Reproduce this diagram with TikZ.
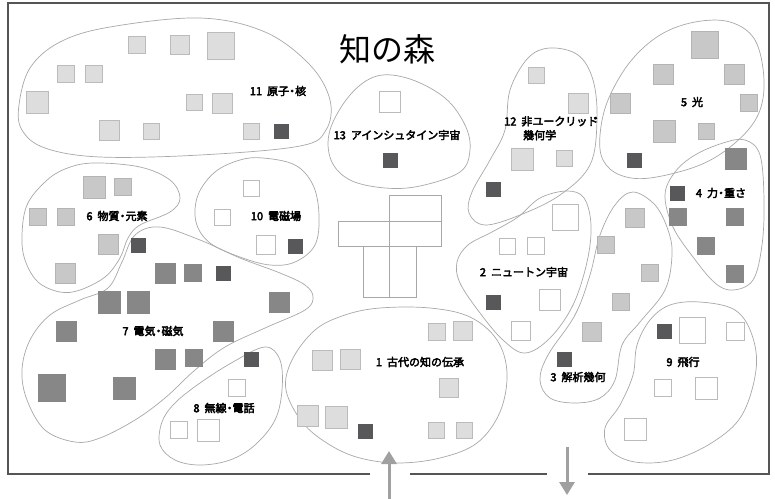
\documentclass[tikz,border=0pt]{standalone}
\usepackage{fontspec}
\newfontfamily\jp{Noto Sans CJK JP}
\newfontfamily\jpb{Noto Sans CJK JP}[FakeBold=3.5]
\usetikzlibrary{arrows.meta}
\definecolor{blobc}{HTML}{A8A8A8}
\definecolor{cL}{HTML}{DCDDDC}
\definecolor{cLb}{HTML}{BBBBBB}
\definecolor{cM}{HTML}{C8C8C8}
\definecolor{cG}{HTML}{878787}
\definecolor{cD}{HTML}{58585A}
\definecolor{cWb}{HTML}{BBBBBB}
\definecolor{framec}{HTML}{555555}
\definecolor{arrc}{HTML}{A0A0A0}
\newcommand{\nsp}{\hspace{5pt}}
\newcommand{\ndot}{\kern-2.5pt・\kern-2.5pt}
\tikzset{
  blob/.style={draw=blobc, line width=0.7pt},
  sqbase/.style={rectangle, inner sep=0pt, outer sep=0pt, minimum size=#1pt, line width=0.8pt},
  sqL/.style={sqbase=#1, fill=cL, draw=cLb},
  sqM/.style={sqbase=#1, fill=cM, draw=cM!90!black},
  sqG/.style={sqbase=#1, fill=cG, draw=cG},
  sqD/.style={sqbase=14, fill=cD, draw=cD},
  sqW/.style={sqbase=#1, fill=white, draw=cWb},
  lbl/.style={font=\jpb\fontsize{11}{14}\selectfont, inner sep=0pt},
  crossbox/.style={rectangle, draw=blobc, line width=0.7pt, inner sep=0pt, outer sep=0pt},
  arr/.style={draw=arrc, line width=3pt, -{Triangle[length=13pt,width=15pt]}},
}
\begin{document}
\begin{tikzpicture}[x=1pt, y=-1pt]
\useasboundingbox (0,0) rectangle (775,498);
\fill[white] (0,0) rectangle (775,498);
% frame
\draw[framec, line width=1.4pt] (370,474) -- (8,474) -- (8,3) -- (769,3) -- (769,474) -- (588,474);
\draw[framec, line width=1.4pt] (410,474) -- (547,474);
% title
\node[font=\jp\fontsize{32}{36}\selectfont, inner sep=0pt] (title) at (387,49) {知の森};

% blobs
\draw[blob] plot[smooth cycle, tension=0.6] coordinates {(19,105) (30,68) (60,42) (110,27) (200,18) (265,32) (310,65) (330,100) (326,130) (300,146) (200,155) (100,157) (45,148) (22,130)};
\draw[blob] plot[smooth cycle, tension=0.6] coordinates {(330,130) (350,95) (377,76) (410,79) (445,98) (465,125) (470,150) (460,172) (420,186) (385,188) (350,180) (331,160)};
\draw[blob] plot[smooth cycle, tension=0.6] coordinates {(550,48) (578,55) (593,80) (597,120) (590,165) (560,195) (520,215) (485,225) (469,213) (472,192) (490,160) (505,130) (510,90) (528,58)};
\draw[blob] plot[smooth cycle, tension=0.6] coordinates {(600,135) (608,100) (630,62) (660,35) (695,22) (730,22) (755,40) (764,80) (758,115) (735,143) (700,165) (650,178) (620,175) (603,160)};
\draw[blob] plot[smooth cycle, tension=0.6] coordinates {(665,195) (675,172) (695,155) (723,143) (745,140) (760,155) (764,200) (762,245) (753,280) (733,290) (715,283) (693,257) (673,227)};
\draw[blob] plot[smooth cycle, tension=0.6] coordinates {(93,163) (140,167) (170,180) (180,198) (170,212) (140,225) (128,238) (120,258) (105,277) (80,290) (60,292) (38,282) (25,260) (22,235) (27,205) (45,182) (65,169)};
\draw[blob] plot[smooth cycle, tension=0.6] coordinates {(160,227) (200,240) (240,258) (280,273) (305,285) (313,297) (305,310) (265,328) (225,347) (195,370) (165,398) (135,420) (100,438) (75,442) (45,430) (27,400) (22,370) (30,340) (50,315) (80,300) (108,288) (122,262) (135,235)};
\draw[blob] plot[smooth cycle, tension=0.6] coordinates {(265,347) (280,360) (282,390) (275,420) (255,445) (230,460) (200,465) (175,460) (160,445) (162,422) (175,403) (200,383) (233,362)};
\draw[blob] plot[smooth cycle, tension=0.6] coordinates {(263,158) (295,165) (313,185) (319,215) (315,245) (295,262) (270,265) (240,257) (210,243) (196,222) (198,195) (215,172) (240,160)};
\draw[blob] plot[smooth cycle, tension=0.6] coordinates {(567,191) (584,198) (591,225) (587,262) (573,305) (550,338) (525,353) (503,340) (480,313) (460,283) (457,262) (468,245) (492,232) (518,217) (540,198)};
\draw[blob] plot[smooth cycle, tension=0.6] coordinates {(633,192) (655,205) (668,230) (672,255) (665,290) (640,322) (622,345) (615,380) (600,398) (575,403) (550,398) (540,380) (548,355) (575,315) (590,275) (600,235) (615,205)};
\draw[blob] plot[smooth cycle, tension=0.6] coordinates {(700,302) (735,310) (752,335) (756,370) (742,415) (713,442) (673,460) (635,462) (610,450) (605,428) (620,405) (633,375) (637,345) (650,320) (670,305)};
\draw[blob] plot[smooth cycle, tension=0.6] coordinates {(380,308) (430,308) (470,317) (497,340) (507,373) (500,412) (477,443) (440,458) (398,463) (360,458) (330,445) (303,423) (286,390) (292,360) (315,330) (345,315)};

% central cross
\node[crossbox, minimum width=52pt, minimum height=26pt] (cr1) at (415,208) {};
\node[crossbox, minimum width=51pt, minimum height=25pt] (cr2) at (363.5,233.5) {};
\node[crossbox, minimum width=52pt, minimum height=25pt] (cr3) at (415,233.5) {};
\node[crossbox, minimum width=26pt, minimum height=51pt] (cr4) at (376,271.5) {};
\node[crossbox, minimum width=27pt, minimum height=51pt] (cr5) at (402.5,271.5) {};

% blob 11
\node[sqL=17] (a1) at (137,45) {};
\node[sqL=19] (a2) at (180,45) {};
\node[sqL=27] (a3) at (221,46) {};
\node[sqL=17] (a4) at (66,74) {};
\node[sqL=17] (a5) at (94,74) {};
\node[sqL=22] (a6) at (37,102) {};
\node[sqL=16] (a7) at (194,102) {};
\node[sqL=20] (a8) at (222,103) {};
\node[sqL=20] (a9) at (109,130) {};
\node[sqL=16] (a10) at (151,131) {};
\node[sqL=16] (a11) at (251,131) {};
\node[sqD] (a12) at (281,131) {};
\node[lbl] (l11) at (278,91) {11\nsp 原子\ndot 核};

% blob 13
\node[sqW=21] (b1) at (390,102) {};
\node[sqD] (b2) at (390,160) {};
\node[lbl] (l13) at (397,135) {13\nsp アインシュタイン宇宙};

% blob 12
\node[sqL=16] (c1) at (536,75) {};
\node[sqL=20] (c2) at (578,103) {};
\node[sqL=22] (c3) at (522,159) {};
\node[sqL=16] (c4) at (564,158) {};
\node[sqD] (c5) at (493,189) {};
\node[lbl, align=left, anchor=north west] (l12) at (504,116) {12\nsp 非ユークリッド\\\hspace*{19pt}幾何学};

% blob 5
\node[sqM=27] (d1) at (705,45) {};
\node[sqM=20] (d2) at (663,74) {};
\node[sqM=20] (d3) at (734,74) {};
\node[sqM=20] (d4) at (620,103) {};
\node[sqM=17] (d5) at (749,103) {};
\node[sqM=22] (d6) at (664,131) {};
\node[sqM=16] (d7) at (706,131) {};
\node[sqD] (d8) at (634,160) {};
\node[lbl] (l5) at (692,102) {5\nsp 光};

% blob 4
\node[sqG=21] (e1) at (736,159) {};
\node[sqG=17] (e2) at (678,217) {};
\node[sqG=17] (e3) at (735,217) {};
\node[sqG=17] (e4) at (706,246) {};
\node[sqG=17] (e5) at (735,274) {};
\node[sqD] (e6) at (677,193) {};
\node[lbl] (l4) at (721,193) {4\nsp 力\ndot 重さ};

% blob 6
\node[sqM=22] (f1) at (94,187) {};
\node[sqM=17] (f2) at (123,187) {};
\node[sqM=17] (f3) at (38,217) {};
\node[sqM=17] (f4) at (66,217) {};
\node[sqM=20] (f5) at (108,244) {};
\node[sqM=20] (f6) at (65,273) {};
\node[lbl] (l6) at (117,216) {6\nsp 物質\ndot 元素};

% blob 7
\node[sqD] (g1) at (138,245) {};
\node[sqG=20] (g2) at (165,273) {};
\node[sqG=17] (g3) at (193,273) {};
\node[sqD] (g4) at (223,273) {};
\node[sqG=22] (g5) at (109,302) {};
\node[sqG=22] (g6) at (138,302) {};
\node[sqG=20] (g7) at (279,302) {};
\node[sqG=20] (g8) at (66,331) {};
\node[sqG=20] (g9) at (223,331) {};
\node[sqG=20] (g10) at (165,359) {};
\node[sqG=17] (g11) at (194,358) {};
\node[sqG=27] (g12) at (52,388) {};
\node[sqG=22] (g13) at (124,388) {};
\node[lbl] (l7) at (153,331) {7\nsp 電気\ndot 磁気};

% blob 8
\node[sqD] (h1) at (251,359) {};
\node[sqW=17] (h2) at (237,388) {};
\node[sqW=17] (h3) at (179,430) {};
\node[sqW=22] (h4) at (208,430) {};
\node[lbl] (l8) at (224,408) {8\nsp 無線\ndot 電話};

% blob 10
\node[sqW=16] (i1) at (251,188) {};
\node[sqW=16] (i2) at (222,217) {};
\node[sqW=19] (i3) at (266,245) {};
\node[sqD] (i4) at (295,246) {};
\node[lbl] (l10) at (276,216) {10\nsp 電磁場};

% blob 2
\node[sqW=26] (j1) at (565,217) {};
\node[sqW=16] (j2) at (507,246) {};
\node[sqW=17] (j3) at (536,246) {};
\node[sqD] (j4) at (493,302) {};
\node[sqW=21] (j5) at (550,300) {};
\node[sqW=19] (j6) at (521,331) {};
\node[lbl] (l2) at (524,272) {2\nsp ニュートン宇宙};

% blob 3
\node[sqM=19] (k1) at (635,218) {};
\node[sqM=17] (k2) at (606,245) {};
\node[sqM=17] (k3) at (650,273) {};
\node[sqM=17] (k4) at (621,302) {};
\node[sqM=19] (k5) at (592,332) {};
\node[sqD] (k6) at (564,359) {};
\node[lbl] (l3) at (578,377) {3\nsp 解析幾何};

% blob 9
\node[sqD] (m1) at (664,331) {};
\node[sqW=26] (m2) at (692,330) {};
\node[sqW=18] (m3) at (735,331) {};
\node[sqW=17] (m4) at (663,388) {};
\node[sqW=22] (m5) at (706,388) {};
\node[sqW=22] (m6) at (635,429) {};
\node[lbl] (l9) at (683,362) {9\nsp 飛行};

% blob 1
\node[sqL=17] (n1) at (437,332) {};
\node[sqL=19] (n2) at (463,331) {};
\node[sqL=20] (n3) at (322,360) {};
\node[sqL=20] (n4) at (350,359) {};
\node[sqL=19] (n5) at (449,388) {};
\node[sqL=21] (n6) at (308,416) {};
\node[sqL=22] (n7) at (336,417) {};
\node[sqD] (n8) at (365,431) {};
\node[sqL=16] (n9) at (436,430) {};
\node[sqL=16] (n10) at (464,430) {};
\node[lbl] (l1) at (420,362) {1\nsp 古代の知の伝承};

% arrows
\coordinate (upS) at (389,499);
\coordinate (upE) at (389,451);
\coordinate (dnS) at (567,447);
\coordinate (dnE) at (567,495);
\draw[arr] (upS) -- (upE);
\draw[arr] (dnS) -- (dnE);
\end{tikzpicture}
\end{document}
